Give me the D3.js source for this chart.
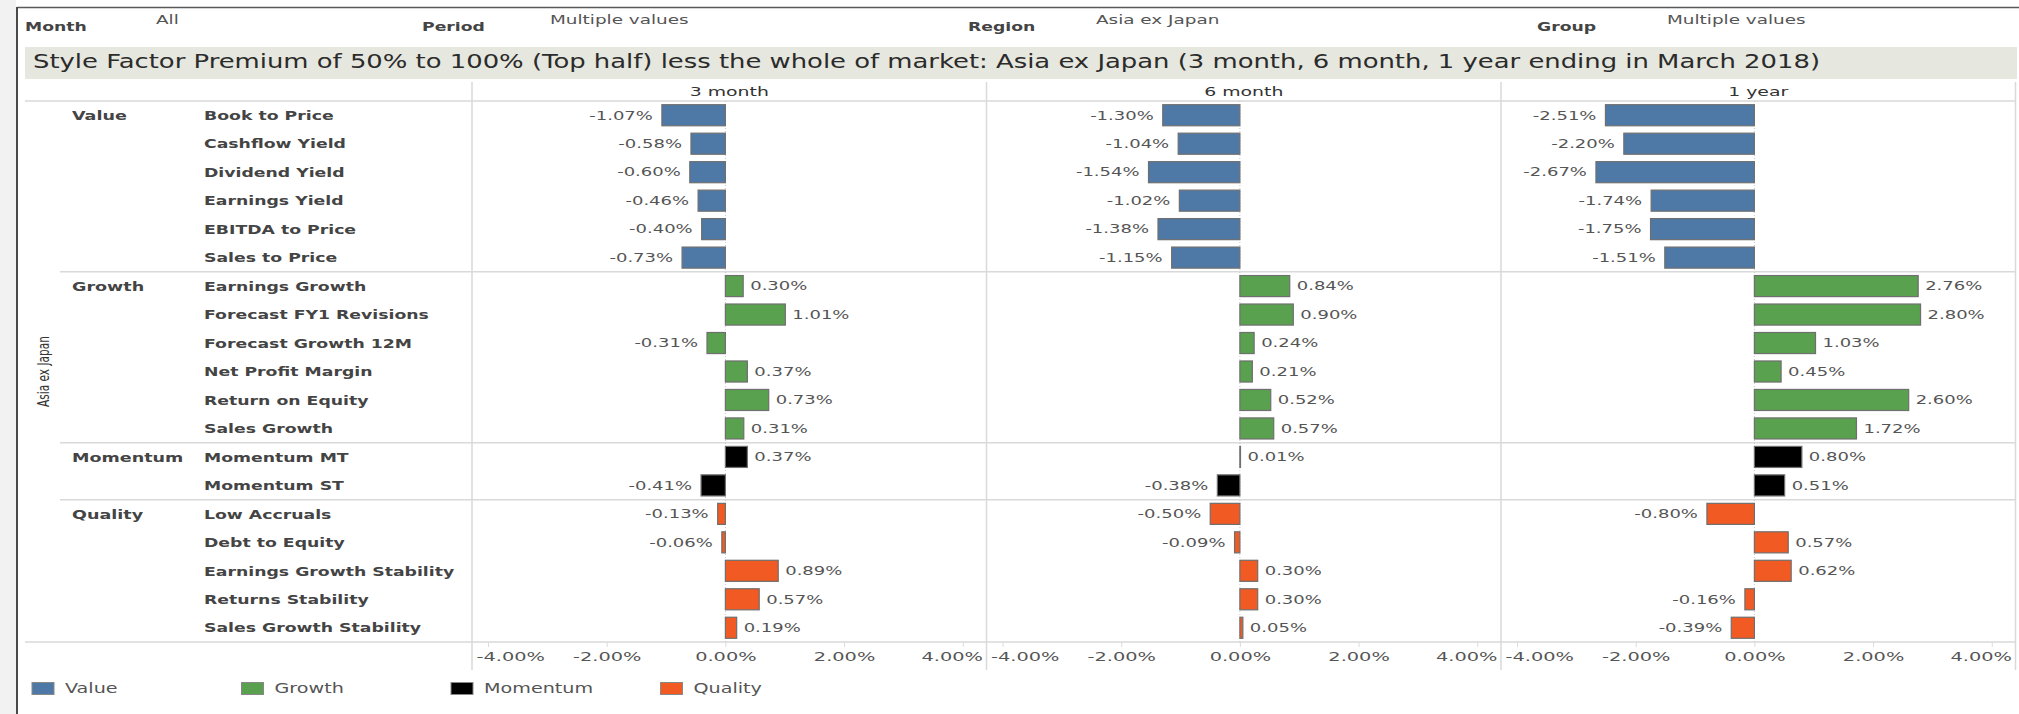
<!DOCTYPE html>
<html>
<head>
<meta charset="utf-8">
<script src="https://cdn.jsdelivr.net/npm/d3@7"></script>
<style>
  body { margin: 0; background: #fff; }
  svg { display: block; font-family: "DejaVu Sans", sans-serif; }
</style>
</head>
<body>
<div id="chart"></div>
<script>
// filter strip
var filterNames = ["Month", "Period", "Region", "Group"];
var filterValues = ["All", "Multiple values", "Asia ex Japan", "Multiple values"];

var title = "Style Factor Premium of 50% to 100% (Top half) less the whole of market: Asia ex Japan (3 month, 6 month, 1 year ending in March 2018)";
var regionName = "Asia ex Japan";

var groups = ["Value", "Growth", "Momentum", "Quality"];
var groupColors = ["#4e79a7", "#59a14f", "#000000", "#f15a22"];

var factors = [
  "Book to Price", "Cashflow Yield", "Dividend Yield", "Earnings Yield", "EBITDA to Price", "Sales to Price",
  "Earnings Growth", "Forecast FY1 Revisions", "Forecast Growth 12M", "Net Profit Margin", "Return on Equity", "Sales Growth",
  "Momentum MT", "Momentum ST",
  "Low Accruals", "Debt to Equity", "Earnings Growth Stability", "Returns Stability", "Sales Growth Stability"
];
var factorGroup = [
  "Value", "Value", "Value", "Value", "Value", "Value",
  "Growth", "Growth", "Growth", "Growth", "Growth", "Growth",
  "Momentum", "Momentum",
  "Quality", "Quality", "Quality", "Quality", "Quality"
];

var periods = ["3 month", "6 month", "1 year"];
var threeMonth = [-1.07, -0.58, -0.60, -0.46, -0.40, -0.73, 0.30, 1.01, -0.31, 0.37, 0.73, 0.31, 0.37, -0.41, -0.13, -0.06, 0.89, 0.57, 0.19];
var sixMonth = [-1.30, -1.04, -1.54, -1.02, -1.38, -1.15, 0.84, 0.90, 0.24, 0.21, 0.52, 0.57, 0.01, -0.38, -0.50, -0.09, 0.30, 0.30, 0.05];
var oneYear = [-2.51, -2.20, -2.67, -1.74, -1.75, -1.51, 2.76, 2.80, 1.03, 0.45, 2.60, 1.72, 0.80, 0.51, -0.80, 0.57, 0.62, -0.16, -0.39];
var periodValues = [threeMonth, sixMonth, oneYear];

var tickValues = [-4, -2, 0, 2, 4];

var width = 2019, height = 714;
var bodyTop = 101, bodyBottom = 642;
var panelLeft = 472, panelW = 514.5;
var gridColor = "#d9d9d9";

// plain hyphen like the source, not the unicode minus
var fmt = function (d) { return d3.format(".2f")(d).replace("\u2212", "-") + "%"; };

var svg = d3.select("#chart").append("svg")
    .attr("width", width)
    .attr("height", height);

// stretched text helper - the source picture is wide
function stext(parent, str, x, y, sx, anchor) {
  return parent.append("text")
    .attr("transform", "translate(" + x + "," + y + ") scale(" + sx + ",1)")
    .attr("text-anchor", anchor || "start")
    .text(str);
}

// frame
svg.append("rect").attr("x", 0).attr("y", 0).attr("width", 16).attr("height", height).attr("fill", "#f2f2f2");
svg.append("line").attr("x1", 17).attr("x2", width).attr("y1", 7.5).attr("y2", 7.5)
    .attr("stroke", "#5a5a5a").attr("stroke-width", 1.5);
svg.append("line").attr("x1", 17).attr("x2", 17).attr("y1", 7).attr("y2", height)
    .attr("stroke", "#4a4a4a").attr("stroke-width", 2);

// filter strip
var filterX = [25, 422, 968, 1537];
var filterValX = [156, 550, 1096, 1667];
filterNames.forEach(function (n, i) {
  stext(svg, n, filterX[i], 31, 1.5)
    .attr("font-size", 11.5).attr("font-weight", "bold").attr("fill", "#444");
  stext(svg, filterValues[i], filterValX[i], 23.5, 1.6)
    .attr("font-size", 11.5).attr("fill", "#555");
});

// title band
svg.append("rect").attr("x", 25).attr("y", 47).attr("width", 1992).attr("height", 32).attr("fill", "#e6e7de");
svg.append("text")
    .attr("x", 33).attr("y", 68)
    .attr("font-size", 20)
    .attr("fill", "#2b2b2b")
    .attr("textLength", 1787)
    .attr("lengthAdjust", "spacingAndGlyphs")
    .text(title);

// rows
var y = d3.scaleBand()
    .domain(factors)
    .range([bodyTop, bodyBottom])
    .paddingInner(0.26)
    .paddingOuter(0.13);
var step = y.step();

// horizontal lines
svg.append("line").attr("x1", 25).attr("x2", 2015).attr("y1", bodyTop).attr("y2", bodyTop)
    .attr("stroke", gridColor).attr("stroke-width", 1.5);
svg.append("line").attr("x1", 25).attr("x2", 2015).attr("y1", bodyBottom).attr("y2", bodyBottom)
    .attr("stroke", gridColor).attr("stroke-width", 1.5);

groups.forEach(function (g, gi) {
  var first = factorGroup.indexOf(g);
  if (gi > 0) {
    var ly = bodyTop + first * step;
    svg.append("line").attr("x1", 60).attr("x2", 2015).attr("y1", ly).attr("y2", ly)
        .attr("stroke", gridColor).attr("stroke-width", 1.5);
  }
  stext(svg, g, 72, y(factors[first]) + y.bandwidth() / 2 + 4.7, 1.35)
      .attr("font-size", 13).attr("font-weight", "bold").attr("fill", "#444");
});

factors.forEach(function (f) {
  stext(svg, f, 204, y(f) + y.bandwidth() / 2 + 4.7, 1.33)
      .attr("font-size", 13).attr("font-weight", "bold").attr("fill", "#444");
});

// region label
svg.append("text")
    .attr("transform", "translate(49," + ((bodyTop + bodyBottom) / 2) + ") rotate(-90) scale(0.66,1)")
    .attr("text-anchor", "middle")
    .attr("font-size", 16)
    .attr("fill", "#333")
    .text(regionName);

// panels
periods.forEach(function (p, pi) {
  var x0 = panelLeft + pi * panelW;
  var x = d3.scaleLinear().domain([-4.27, 4.4]).range([x0, x0 + panelW]);
  var vals = periodValues[pi];
  var g = svg.append("g");

  // column header
  stext(g, p, x0 + panelW / 2, 96, 1.45, "middle")
      .attr("font-size", 13).attr("fill", "#333");

  // zero line
  g.append("line").attr("x1", x(0)).attr("x2", x(0)).attr("y1", bodyTop).attr("y2", bodyBottom)
      .attr("stroke", "#c8c8c8").attr("stroke-dasharray", "1,2");

  // bars
  g.selectAll("rect.bar")
    .data(vals)
    .enter()
    .append("rect")
    .attr("class", "bar")
    .attr("x", function (d) { return x(Math.min(0, d)); })
    .attr("y", function (d, i) { return y(factors[i]); })
    .attr("width", function (d) { return Math.abs(x(d) - x(0)); })
    .attr("height", y.bandwidth())
    .attr("fill", function (d, i) { return groupColors[groups.indexOf(factorGroup[i])]; })
    .attr("stroke", "#6f6f6f")
    .attr("stroke-width", 1.2);

  // bar labels
  vals.forEach(function (d, i) {
    var cy = y(factors[i]) + y.bandwidth() / 2 + 4.3;
    var lx = d >= 0 ? x(d) + 7 : x(d) - 9;
    stext(g, fmt(d), lx, cy, 1.5, d >= 0 ? "start" : "end")
        .attr("font-size", 12).attr("fill", "#555");
  });

  // axis
  var ax = g.append("g")
      .attr("transform", "translate(0," + bodyBottom + ")")
      .call(d3.axisBottom(x)
        .tickValues(tickValues)
        .tickSize(5)
        .tickFormat(fmt));
  ax.select(".domain").remove();
  ax.selectAll(".tick line").attr("stroke", "#dcdcdc");
  ax.selectAll(".tick text").each(function (d, i) {
    var t = d3.select(this);
    var tx = x(d);
    var dx = 0, anchor = "middle";
    if (i === 0) { dx = x0 + 4 - tx; anchor = "start"; }
    if (i === tickValues.length - 1) { dx = x0 + panelW - 4 - tx; anchor = "end"; }
    t.attr("y", null).attr("dy", null)
      .attr("text-anchor", anchor)
      .attr("transform", "translate(" + dx + ",19) scale(1.55,1)")
      .attr("font-size", 12.5)
      .attr("font-family", "DejaVu Sans")
      .attr("fill", "#555");
  });
});

// panel separators
d3.range(periods.length + 1).forEach(function (i) {
  var sx = panelLeft + i * panelW;
  svg.append("line").attr("x1", sx).attr("x2", sx).attr("y1", 82).attr("y2", 670)
      .attr("stroke", gridColor).attr("stroke-width", 1.5);
});

// legend
var legend = svg.append("g");
groups.forEach(function (g, i) {
  var lx = 32 + i * 209.5;
  legend.append("rect")
      .attr("x", lx).attr("y", 682.5).attr("width", 22).attr("height", 12)
      .attr("fill", groupColors[i]).attr("stroke", "#888").attr("stroke-width", 1);
  stext(legend, g, lx + 33, 693, 1.42)
      .attr("font-size", 13.5).attr("fill", "#555");
});
</script>
</body>
</html>
